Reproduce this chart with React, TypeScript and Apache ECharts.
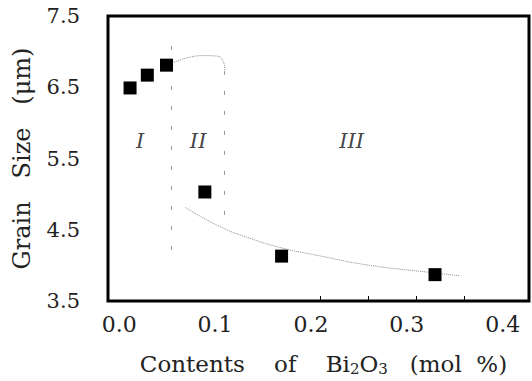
import React, { useEffect, useRef } from "react";
import * as echarts from "echarts";

// Bi2O3 content (mol %) and measured grain size (µm)
const bi2o3Content = [0.002, 0.02, 0.04, 0.08, 0.16, 0.32];
const grainSize = [6.49, 6.67, 6.81, 5.03, 4.13, 3.87];

// Hand-drawn trend curves
const upperTrendX = [0.0406, 0.051, 0.0646, 0.08, 0.0927, 0.099, 0.101];
const upperTrendY = [6.81, 6.867, 6.923, 6.944, 6.937, 6.867, 6.727];
const lowerTrendX = [0.0594, 0.075, 0.099, 0.12, 0.16, 0.2, 0.249, 0.318, 0.346];
const lowerTrendY = [4.817, 4.691, 4.524, 4.412, 4.245, 4.133, 4.007, 3.896, 3.854];

// Region boundaries (x position, top, bottom)
const boundaryX = [0.045, 0.1];
const boundaryTop = [7.08, 6.73];
const boundaryBottom = [4.01, 4.55];

// Region names
const regionNames = ["I", "II", "III"];
const regionX = [0.0125, 0.073, 0.233];
const regionY = [5.74, 5.74, 5.74];

// Axis ticks
const xTickLabels = [0, 0.1, 0.2, 0.3, 0.4];
const xMinorTicks = [0.2, 0.25, 0.3, 0.35];

const SERIF = "'DejaVu Serif', 'Liberation Serif', serif";
const TEXT = "#222";

export default function App() {
  const ref = useRef<HTMLDivElement>(null);

  useEffect(() => {
    if (!ref.current) return;
    const chart = echarts.init(ref.current, null, { renderer: "svg" });

    const trendStyle = { color: "#8a8a8a", width: 1, type: "dotted" as const };

    chart.setOption({
      animation: false,
      backgroundColor: "#fff",
      grid: {
        left: 108,
        top: 16,
        right: 3,
        bottom: 76,
        show: true,
        borderColor: "#000",
        borderWidth: 3,
        backgroundColor: "transparent",
      },
      xAxis: {
        type: "value",
        min: -0.021,
        max: 0.418,
        axisLine: { show: false },
        splitLine: { show: false },
        axisTick: {
          show: true,
          inside: true,
          length: 5,
          customValues: xMinorTicks,
          lineStyle: { color: "#000", width: 1 },
        },
        axisLabel: {
          customValues: xTickLabels,
          margin: 12,
          formatter: (v: number) => `{t|${v.toFixed(1)}}`,
          rich: {
            t: {
              fontFamily: SERIF,
              fontSize: 22,
              color: TEXT,
              padding: [0, 18, 0, 0],
            },
          },
        },
        name: "Contents    of    Bi{s|2}O{s|3}   (mol  %)",
        nameLocation: "middle",
        nameGap: 50,
        nameTextStyle: {
          fontFamily: SERIF,
          fontSize: 23,
          color: TEXT,
          padding: [0, 0, 0, 10],
          rich: {
            s: { fontFamily: SERIF, fontSize: 15, color: TEXT, padding: [10, 0, 0, 0] },
          },
        },
      },
      yAxis: {
        type: "value",
        min: 3.5,
        max: 7.5,
        interval: 1,
        axisLine: { show: false },
        splitLine: { show: false },
        axisTick: { show: false },
        axisLabel: {
          margin: 28,
          fontFamily: SERIF,
          fontSize: 21,
          color: TEXT,
          formatter: (v: number) => v.toFixed(1),
        },
        name: "Grain   Size   (μm)",
        nameLocation: "middle",
        nameGap: 74,
        nameTextStyle: { fontFamily: SERIF, fontSize: 24, color: TEXT },
      },
      series: [
        {
          type: "line",
          data: upperTrendX.map((x, i) => [x, upperTrendY[i]]),
          smooth: 0.5,
          showSymbol: false,
          lineStyle: trendStyle,
          silent: true,
          z: 1,
        },
        {
          type: "line",
          data: lowerTrendX.map((x, i) => [x, lowerTrendY[i]]),
          smooth: 0.5,
          showSymbol: false,
          lineStyle: trendStyle,
          silent: true,
          z: 1,
          markLine: {
            silent: true,
            symbol: "none",
            label: { show: false },
            lineStyle: { color: "#9a9a9a", width: 1, type: [4, 16] },
            data: boundaryX.map((x, i) => [
              { coord: [x, boundaryTop[i]] },
              { coord: [x, boundaryBottom[i]] },
            ]),
          },
        },
        {
          type: "scatter",
          data: regionNames.map((n, i) => ({ name: n, value: [regionX[i], regionY[i]] })),
          symbolSize: 1,
          itemStyle: { color: "transparent" },
          silent: true,
          label: {
            show: true,
            position: "inside",
            formatter: (p: any) => p.name,
            fontFamily: SERIF,
            fontStyle: "italic",
            fontSize: 21,
            color: "#111",
          },
        },
        {
          type: "scatter",
          name: "Grain size",
          data: bi2o3Content.map((x, i) => [x, grainSize[i]]),
          symbol: "rect",
          symbolSize: 13,
          itemStyle: { color: "#000", opacity: 1 },
          z: 5,
        },
      ],
    });

    return () => chart.dispose();
  }, []);

  return (
    <div
      ref={ref}
      style={{ position: "fixed", left: 0, top: 0, width: 532, height: 381, background: "#fff" }}
    />
  );
}
